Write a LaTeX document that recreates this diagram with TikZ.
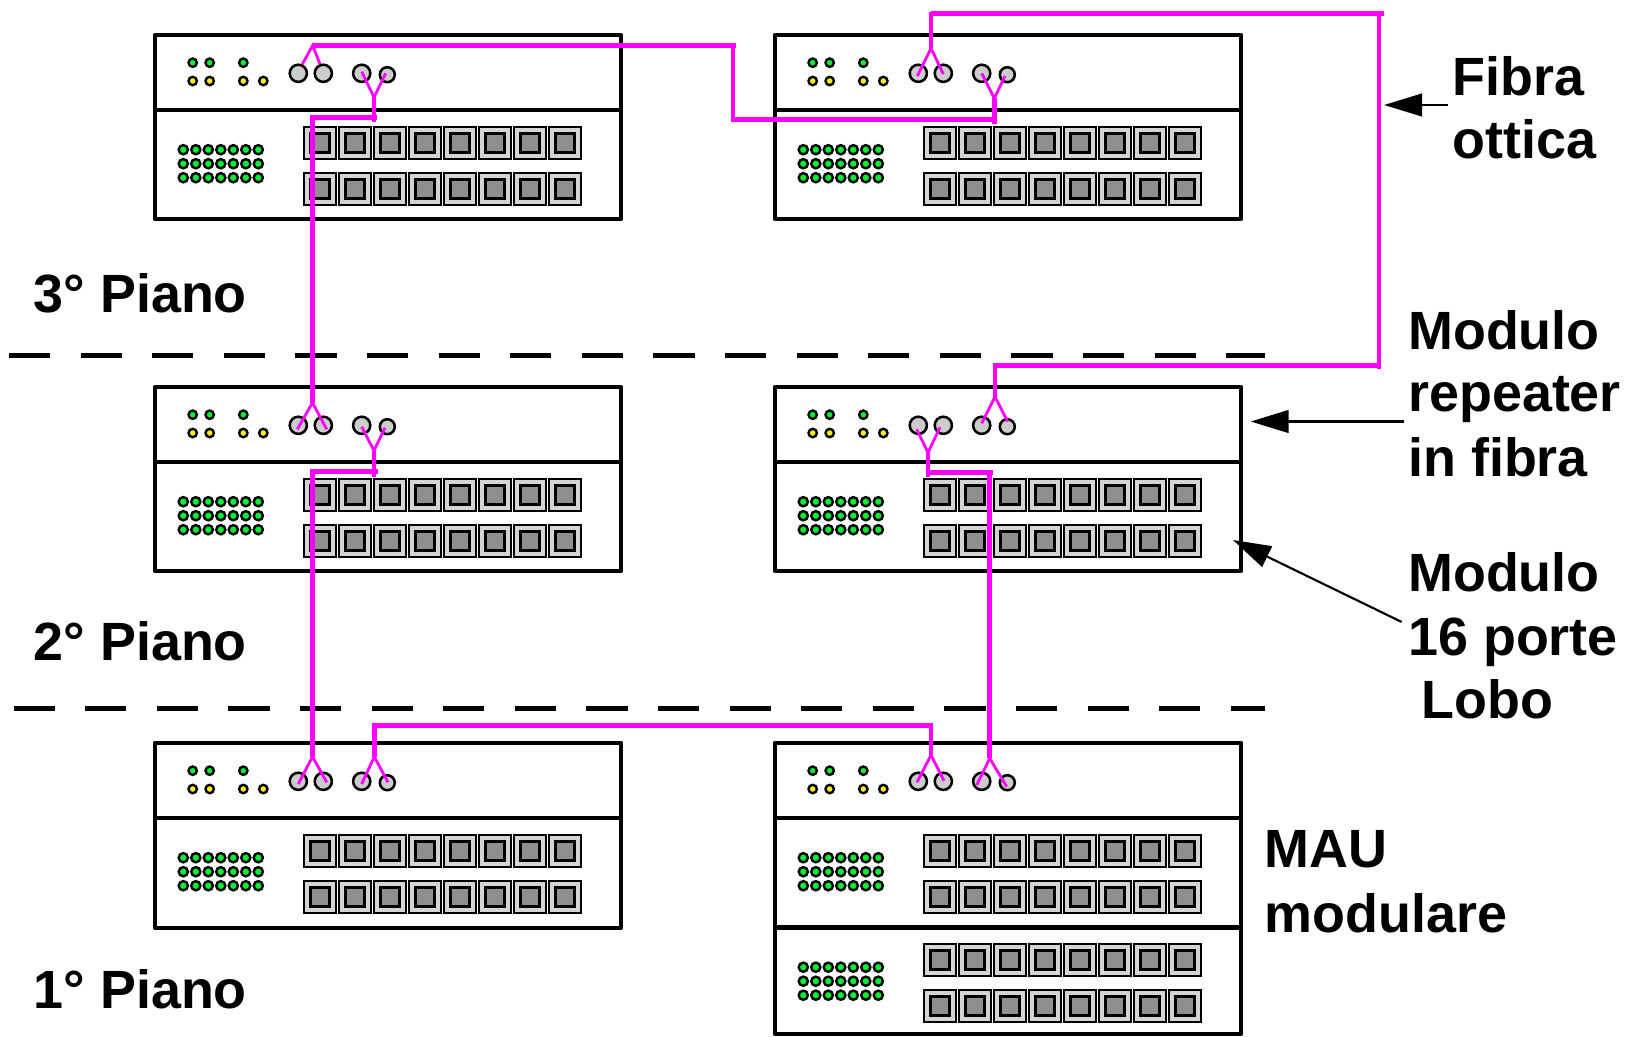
\documentclass[tikz,border=0pt]{standalone}
\usepackage{fontspec}
\setmainfont{Liberation Sans}
\usetikzlibrary{arrows.meta}
\definecolor{wire}{HTML}{FF00FF}
\definecolor{ledg}{HTML}{00EE33}
\definecolor{ledy}{HTML}{FFEE00}
\definecolor{cellc}{HTML}{D4D4D4}
\definecolor{innerc}{HTML}{8F8F8F}
\definecolor{portc}{HTML}{CCCCCC}
\tikzset{
  chassis/.style={draw=black,line width=3.5pt,fill=white,line join=round},
  greenled/.style={draw=black,line width=1.8pt,fill=ledg},
  yellowled/.style={draw=black,line width=1.8pt,fill=ledy},
  fibreport/.style={draw=black,line width=1.9pt,fill=portc},
  cellbox/.style={draw=black,line width=1.5pt,fill=cellc},
  innerbox/.style={draw=black,line width=2.2pt,fill=innerc},
  trunk/.style={draw=wire,line width=3.7pt},
  branch/.style={draw=wire,line width=2.1pt},
  floorline/.style={draw=black,line width=3.5pt,dash pattern=on 30.9pt off 22.8pt},
  callout/.style={draw=black,line width=1.6pt,-{Triangle[length=28.5pt,width=17pt]}},
  caption/.style={anchor=base west,inner sep=0pt,font=\fontsize{40.4pt}{40.4pt}\selectfont\bfseries},
}
% lamp panel: origin at top-left corner of the chassis
\newcommand{\headpanel}[2]{%
  \begin{scope}[shift={(#1,#2)}]
    \draw[chassis] (0,0) rectangle (466,75);
    \foreach \x in {37.7,54.7,88.3} \draw[greenled] (\x,27.7) circle (4.2);
    \foreach \x in {37.7,54.7,88.3,108.3} \draw[yellowled] (\x,46) circle (4.2);
    \draw[fibreport] (143.3,38.3) circle (8.6);
    \draw[fibreport] (168.3,38.3) circle (8.6);
    \draw[fibreport] (206.7,38.3) circle (8.6);
    \draw[fibreport] (232.3,39.7) circle (7.5);
  \end{scope}}
% 16 port module: #2 is the y of its upper edge
\newcommand{\portmodule}[3]{%
  \begin{scope}[shift={(#1,#2)}]
    \draw[chassis] (0,0) rectangle (466,#3);
    \foreach \r in {0,1,2} \foreach \c in {0,...,6}
      \draw[greenled] ({28.3+12.5*\c},{39.7+14*\r}) circle (4.6);
    \foreach \yy in {32.7,78.7} \foreach \c in {0,...,7} {
      \draw[cellbox] ({165.4+34.95*\c-16},{\yy-16}) rectangle ++(32,32);
      \draw[innerbox] ({165.4+34.95*\c-9.5},{\yy-9.5}) rectangle ++(19,19);
    }
  \end{scope}}
\begin{document}
\begin{tikzpicture}[x=0.75pt,y=-0.75pt]
\useasboundingbox (0,0) rectangle (1626,1036);
\fill[white] (0,0) rectangle (1626,1036);

% floor separators
\coordinate (f1a) at (9,355.6);   \coordinate (f1b) at (1265,355.6);
\coordinate (f2a) at (13.5,708.6);\coordinate (f2b) at (1265,708.6);
\draw[floorline] (f1a) -- (f1b);
\draw[floorline] (f2a) -- (f2b);

% racks
\headpanel{155}{35}   \portmodule{155}{110}{109}
\headpanel{775}{35}   \portmodule{775}{110}{109}
\headpanel{155}{387}  \portmodule{155}{462}{109}
\headpanel{775}{387}  \portmodule{775}{462}{109}
\headpanel{155}{743}  \portmodule{155}{818}{110}
\headpanel{775}{743}  \portmodule{775}{818}{110}
\portmodule{775}{927.5}{106.5}

% fibre: junctions and port ends
\coordinate (tlA) at (312.7,45.3);
\coordinate (tlAa) at (302.3,64.3); \coordinate (tlAb) at (320,64.3);
\coordinate (tlB) at (374,97.3);
\coordinate (tlBa) at (361.7,71.7); \coordinate (tlBb) at (385.7,73.3);
\coordinate (tlBe) at (374,122);
\coordinate (tlBh) at (377,117.3);  \coordinate (tlBc) at (312.5,117.3);
\coordinate (mlA) at (312.5,402.7);
\coordinate (mlAa) at (297.3,429.3);\coordinate (mlAb) at (326.7,429.3);
\coordinate (mlB) at (374,450.7);
\coordinate (mlBa) at (361.7,426.7);\coordinate (mlBb) at (385,427.7);
\coordinate (mlBe) at (374,476.7);
\coordinate (mlBh) at (377.7,471.3);\coordinate (mlBc) at (312.5,471.3);
\coordinate (blA) at (312.5,756.7);
\coordinate (blAa) at (298.3,784);  \coordinate (blAb) at (326.7,782.3);
\coordinate (blB) at (374.3,756.7);
\coordinate (blBa) at (361.7,784);  \coordinate (blBb) at (388,782.3);
\coordinate (blBc) at (374.3,725.7);
\coordinate (brA) at (931,755);
\coordinate (brAa) at (917,782.3);  \coordinate (brAb) at (944,780.7);
\coordinate (brAc) at (931,725.7);  \coordinate (brAh) at (933,725.7);
\coordinate (brB) at (989.7,758.3);
\coordinate (brBa) at (976.7,785);  \coordinate (brBb) at (1006.7,786.7);
\coordinate (mrB) at (928,452.7);
\coordinate (mrBa) at (916.7,429.3);\coordinate (mrBb) at (940,427.3);
\coordinate (mrBe) at (928,477);
\coordinate (mrBc) at (928,472.7);  \coordinate (mrBd) at (989.7,472.7);
\coordinate (mrBh) at (992.7,472.7);
\coordinate (mrA) at (995,396.7);
\coordinate (mrAa) at (981.7,423.3);\coordinate (mrAb) at (1007.7,421.7);
\coordinate (mrAt) at (995,363);
\coordinate (trA) at (931,48.3);
\coordinate (trAa) at (917.3,76);   \coordinate (trAb) at (943.3,74);
\coordinate (trAt) at (931,11.7);
\coordinate (topE) at (1384,13.3);  \coordinate (topC) at (1379,13.3);
\coordinate (sideT) at (1379,11.7); \coordinate (sideB) at (1379,369);
\coordinate (sideM) at (1379,365.3);\coordinate (mrAh) at (993,365.3);
\coordinate (trB) at (994.3,98.3);
\coordinate (trBa) at (981.7,73.3); \coordinate (trBb) at (1005,76);
\coordinate (trBe) at (994.3,124);
\coordinate (trBh) at (997,119.3);
\coordinate (midA) at (736,45.3);   \coordinate (midC) at (733,43.7);
\coordinate (midD) at (733,119.3);

% fibre: thin splitter branches
\foreach \j/\a/\b in {tlA/tlAa/tlAb,tlB/tlBa/tlBb,mlA/mlAa/mlAb,mlB/mlBa/mlBb,
                      blA/blAa/blAb,blB/blBa/blBb,brA/brAa/brAb,brB/brBa/brBb,
                      mrB/mrBa/mrBb,mrA/mrAa/mrAb,trA/trAa/trAb,trB/trBa/trBb}
  \draw[branch] (\a) -- (\j) -- (\b);

% fibre: trunks
\draw[trunk] (midA) -- (tlA);
\draw[trunk] (midC) -- (midD) -- (trBh);
\draw[trunk] (trB) -- (trBe);
\draw[trunk] (tlB) -- (tlBe);
\draw[trunk] (tlBh) -- (tlBc) -- (mlA);
\draw[trunk] (mlB) -- (mlBe);
\draw[trunk] (mlBh) -- (mlBc) -- (blA);
\draw[trunk] (blB) -- (blBc) -- (brAh);
\draw[trunk] (brAc) -- (brA);
\draw[trunk] (trA) -- (trAt);
\draw[trunk] (trAt |- topC) -- (topE);
\draw[trunk] (sideT) -- (sideB);
\draw[trunk] (sideM) -- (mrAh);
\draw[trunk] (mrAt) -- (mrA);
\draw[trunk] (mrB) -- (mrBe);
\draw[trunk] (mrBc) -- (mrBh);
\draw[trunk] (mrBd) -- (brB);

% texts
\node[caption] (p3) at (33.5,312)  {3° Piano};
\node[caption] (p2) at (33.5,660.3){2° Piano};
\node[caption] (p1) at (33.5,1008.3){1° Piano};
\node[caption] (fa) at (1452,95.5) {Fibra};
\node[caption] (fb) at (1452,158.5){ottica};
\node[caption] (ra) at (1408,349)  {Modulo};
\node[caption] (rb) at (1408,411.5){repeater};
\node[caption] (rc) at (1408,476)  {in fibra};
\node[caption] (la) at (1408,591)  {Modulo};
\node[caption] (lb) at (1408,655)  {16 porte};
\node[caption] (lc) at (1421,718)  {Lobo};
\node[caption] (ma) at (1264.5,867){MAU};
\node[caption] (mb) at (1264.5,932){modulare};

% callouts
\coordinate (c1s) at (1448,105);   \coordinate (c1t) at (1384,105);
\coordinate (c2s) at (1404,421.5); \coordinate (c2t) at (1250.7,421.5);
\coordinate (c3s) at (1401.7,622); \coordinate (c3t) at (1233,540);
\draw[callout] (c1s) -- (c1t);
\draw[callout] (c2s) -- (c2t);
\draw[callout] (c3s) -- (c3t);
\end{tikzpicture}
\end{document}
